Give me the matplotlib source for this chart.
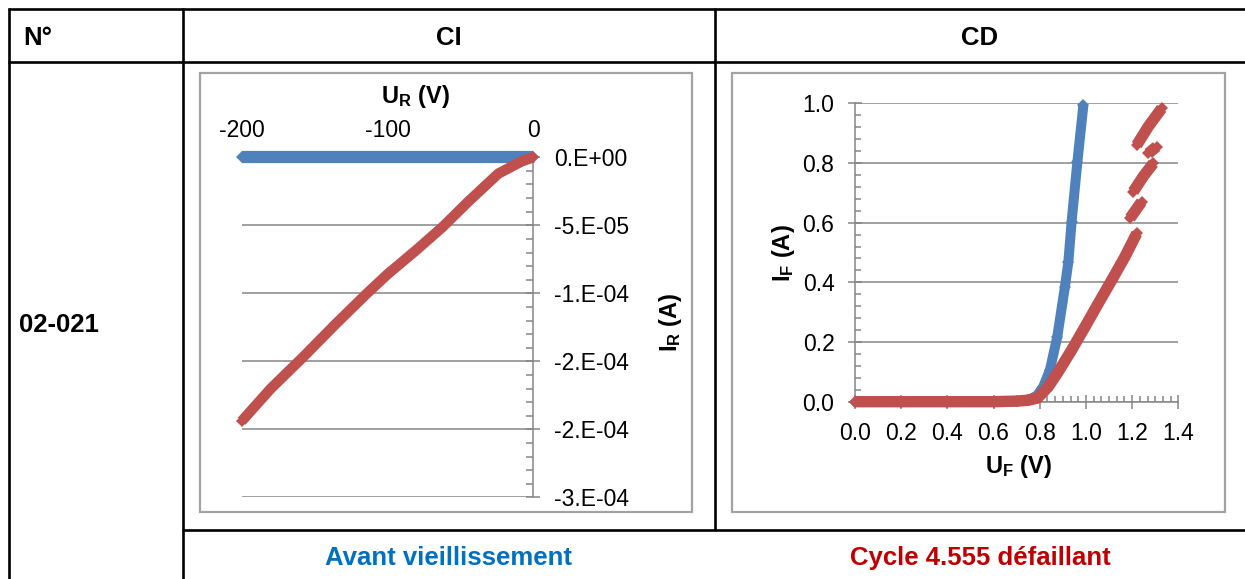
import matplotlib.pyplot as plt
from matplotlib.lines import Line2D
from matplotlib.patches import Rectangle
from matplotlib.ticker import MultipleLocator
import numpy as np

plt.rcParams['font.family'] = ['Liberation Sans', 'DejaVu Sans']
plt.rcParams['mathtext.fontset'] = 'custom'
plt.rcParams['mathtext.rm'] = 'Liberation Sans'
plt.rcParams['mathtext.bf'] = 'Liberation Sans:bold'

W, H = 1245, 579
BLUE = '#4F81BD'
RED = '#C0504D'
GRID = '#868686'
FRAME = '#a3a3a3'
TICK_FS = 16.5
TITLE_FS = 17
TABLE_FS = 18.5

# CI : reverse characteristic, U_R (V) / I_R (A)
ci_avant_u = [-200, -150, -100, -50, 0]
ci_avant_i = [0, 0, 0, 0, 0]
ci_cycle_u = [-200, -180, -158, -135, -114, -100, -80, -62, -45, -32, -24, -16, -8, 0]
ci_cycle_i = [-1.94e-4, -1.70e-4, -1.47e-4, -1.22e-4, -1.00e-4, -8.6e-5, -6.8e-5,
              -5.1e-5, -3.3e-5, -2.0e-5, -1.2e-5, -7.5e-6, -3.0e-6, 0]
ci_xticks = [-200, -100, 0]
ci_yticks = [0, -5e-5, -1e-4, -1.5e-4, -2e-4, -2.5e-4]
ci_ytick_labels = ['0.E+00', '-5.E-05', '-1.E-04', '-2.E-04', '-2.E-04', '-3.E-04']

# CD : forward characteristic, U_F (V) / I_F (A)
cd_avant_u = [0.0, 0.2, 0.4, 0.6, 0.70, 0.76, 0.79, 0.815, 0.844, 0.876, 0.909, 0.924,
              0.938, 0.963, 0.989]
cd_avant_i = [0, 0, 0, 0, 0.001, 0.008, 0.022, 0.05, 0.106, 0.218, 0.385, 0.469,
              0.603, 0.804, 0.994]
# nan = gaps in the measured curve
cd_cycle_u = [0.0, 0.2, 0.4, 0.6, 0.70, 0.75, 0.79, 0.837, 0.88, 0.938, 0.996, 1.054,
              1.112, 1.169, 1.22, np.nan, 1.191, 1.241, np.nan, 1.205, 1.25, 1.292,
              np.nan, 1.27, 1.306, np.nan, 1.22, 1.27, 1.328]
cd_cycle_i = [0, 0, 0, 0, 0.002, 0.005, 0.012, 0.05, 0.10, 0.173, 0.251, 0.33,
              0.408, 0.486, 0.564, np.nan, 0.615, 0.670, np.nan, 0.704, 0.757, 0.799,
              np.nan, 0.832, 0.855, np.nan, 0.860, 0.922, 0.983]
cd_xticks = [0.0, 0.2, 0.4, 0.6, 0.8, 1.0, 1.2, 1.4]
cd_yticks = [0.0, 0.2, 0.4, 0.6, 0.8, 1.0]


def fx(px):
    return px / W


def fy(py):
    return 1 - py / H


def hline(fig, y, x0, x1):
    fig.add_artist(Line2D([fx(x0), fx(x1)], [fy(y), fy(y)], transform=fig.transFigure,
                          color='black', lw=1.9, solid_capstyle='butt'))


def vline(fig, x, y0, y1):
    fig.add_artist(Line2D([fx(x), fx(x)], [fy(y0), fy(y1)], transform=fig.transFigure,
                          color='black', lw=1.9, solid_capstyle='butt'))


def frame(fig, x0, y0, x1, y1):
    fig.add_artist(Rectangle((fx(x0), fy(y1)), (x1 - x0) / W, (y1 - y0) / H,
                             transform=fig.transFigure, fill=False, ec=FRAME, lw=1.6))


def add_axes(fig, x0, y0, x1, y1):
    ax = fig.add_axes([fx(x0), fy(y1), (x1 - x0) / W, (y1 - y0) / H])
    ax.set_facecolor('none')
    for s in ax.spines.values():
        s.set_visible(False)
    ax.yaxis.grid(True, color=GRID, lw=1.1)
    ax.set_axisbelow(True)
    return ax


fig = plt.figure(figsize=(W / 100, H / 100), dpi=100)

# table
hline(fig, 9, 7.7, W)
hline(fig, 62, 7.7, W)
hline(fig, 529.5, 181.5, W)
vline(fig, 8.7, 8, H)
vline(fig, 182.5, 8, H)
vline(fig, 714.5, 8, 529.5)

fig.text(fx(23), fy(45), 'N°', fontsize=TABLE_FS, fontweight='bold', va='baseline')
fig.text(fx(448.5), fy(45), 'CI', fontsize=TABLE_FS, fontweight='bold', ha='center', va='baseline')
fig.text(fx(980), fy(45), 'CD', fontsize=TABLE_FS, fontweight='bold', ha='center', va='baseline')
fig.text(fx(18.5), fy(331.7), '02-021', fontsize=TABLE_FS, fontweight='bold', va='baseline')
fig.text(fx(448.5), fy(565), 'Avant vieillissement', fontsize=TABLE_FS, fontweight='bold',
         color='#0070C0', ha='center', va='baseline')
fig.text(fx(980.5), fy(565), 'Cycle 4.555 défaillant', fontsize=TABLE_FS, fontweight='bold',
         color='#C00000', ha='center', va='baseline')

frame(fig, 200, 73.3, 692.3, 511.7)
frame(fig, 732.3, 73.3, 1225, 511.7)

# CI chart
ax1 = add_axes(fig, 241.7, 157.3, 533.3, 497.3)
ax1.plot(ci_avant_u, ci_avant_i, color=BLUE, lw=8.8, marker='D', ms=6.4, mew=0,
         solid_capstyle='butt', clip_on=False, zorder=3)
ax1.plot(ci_cycle_u, ci_cycle_i, color=RED, lw=7.5, marker='D', ms=6.4, mew=0,
         solid_capstyle='butt', clip_on=False, zorder=4)
ax1.set_xlim(-200, 0)
ax1.set_ylim(-2.5e-4, 0)
ax1.spines['right'].set_visible(True)
ax1.spines['right'].set_color(GRID)
ax1.spines['right'].set_linewidth(1.1)
ax1.xaxis.tick_top()
ax1.set_xticks(ci_xticks)
ax1.set_xticklabels([str(v) for v in ci_xticks])
ax1.tick_params(axis='x', length=0, pad=11.2, labelsize=TICK_FS)
ax1.yaxis.tick_right()
ax1.set_yticks(ci_yticks)
ax1.set_yticklabels(ci_ytick_labels)
ax1.yaxis.set_minor_locator(MultipleLocator(1e-5))
ax1.tick_params(axis='y', which='major', direction='inout', length=10.6, width=1.1,
                color=GRID, pad=9.8, labelsize=TICK_FS)
ax1.tick_params(axis='y', which='minor', direction='in', length=4.8, width=1.1, color=GRID)
fig.text(fx(415), fy(97), r'$\mathbf{U_R}$ (V)', fontsize=TITLE_FS, fontweight='bold',
         ha='center', va='center')
fig.text(fx(670), fy(321.7), r'$\mathbf{I_R}$ (A)', fontsize=TITLE_FS, fontweight='bold',
         rotation=90, ha='center', va='center')

# CD chart
ax2 = add_axes(fig, 855, 103.3, 1178.3, 401.7)
ax2.plot(cd_avant_u, cd_avant_i, color=BLUE, lw=7.2, marker='D', ms=6.4, mew=0,
         solid_capstyle='butt', clip_on=False, zorder=3)
ax2.plot(cd_cycle_u, cd_cycle_i, color=RED, lw=8.2, marker='D', ms=6.4, mew=0,
         solid_capstyle='butt', clip_on=False, zorder=4)
ax2.set_xlim(0, 1.4)
ax2.set_ylim(0, 1.0)
for side in ['left', 'bottom']:
    ax2.spines[side].set_visible(True)
    ax2.spines[side].set_color(GRID)
    ax2.spines[side].set_linewidth(1.1)
ax2.set_xticks(cd_xticks)
ax2.set_xticklabels([f'{v:.1f}' for v in cd_xticks])
ax2.set_yticks(cd_yticks)
ax2.set_yticklabels([f'{v:.1f}' for v in cd_yticks])
ax2.xaxis.set_minor_locator(MultipleLocator(0.2 / 6))
ax2.yaxis.set_minor_locator(MultipleLocator(0.04))
ax2.tick_params(axis='both', which='major', direction='inout', length=9.4, width=1.1,
                color=GRID, labelsize=TICK_FS)
ax2.tick_params(axis='x', which='major', pad=10.2)
ax2.tick_params(axis='y', which='major', pad=10.1)
ax2.tick_params(axis='both', which='minor', direction='in', length=4.5, width=1.1, color=GRID)
fig.text(fx(1018.3), fy(466.7), r'$\mathbf{U_F}$ (V)', fontsize=TITLE_FS, fontweight='bold',
         ha='center', va='center')
fig.text(fx(783.3), fy(253.3), r'$\mathbf{I_F}$ (A)', fontsize=TITLE_FS, fontweight='bold',
         rotation=90, ha='center', va='center')

plt.savefig('out.png', dpi=100)
plt.close()
